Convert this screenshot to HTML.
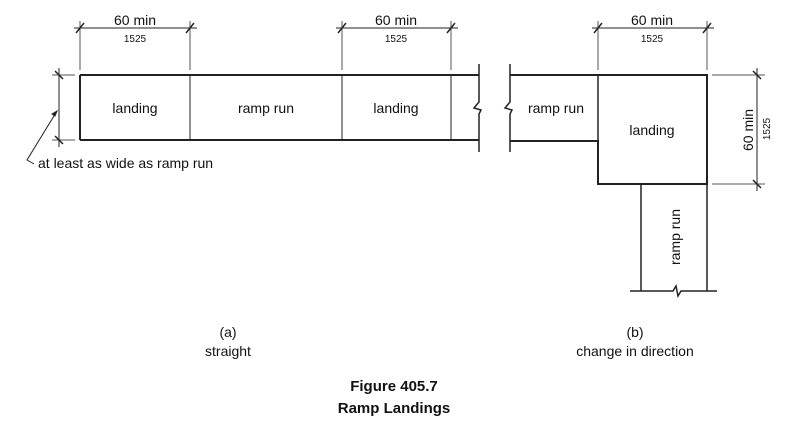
<!DOCTYPE html>
<html><head><meta charset="utf-8"><style>
html,body{margin:0;padding:0;background:#fff}
svg{display:block}
text{font-family:"Liberation Sans",Arial,sans-serif;fill:#111}
</style></head><body>
<svg width="810" height="426" viewBox="0 0 810 426" xmlns="http://www.w3.org/2000/svg">
<g stroke="#222" fill="none" stroke-width="1">
<path d="M80 75H479M80 140H479" stroke-width="2"/>
<path d="M80 75V140" stroke-width="2"/>
<path d="M190 75V140M342 75V140M451 75V140"/>
<path d="M479 64V102L474 108L481 110L479 114V152" stroke-width="1.5"/>
<path d="M80 70V21M190 70V21M342 70V21M451 70V21" stroke="#555"/>
<path d="M74 28H197M336 28H458"/>
<path d="M76 33L84 23M186 33L194 23M338 33L346 23M447 33L455 23" stroke-width="1.5"/>
<path d="M52 75H75M52 140H75" stroke="#555"/>
<path d="M59 68V147"/>
<path d="M55 71L63 79M55 136L63 144" stroke-width="1.5"/>
<path d="M57 111L27 160L34 164"/>
<path d="M57 111L52 114L55 116Z" fill="#222"/>
<path d="M510 64V102L505 108L512 110L510 114V152" stroke-width="1.5"/>
<path d="M510 75H707V184H598V141H510" stroke-width="2"/>
<path d="M598 75V141" stroke-width="1.5"/>
<path d="M641 184V291M707 184V291" stroke-width="1.5"/>
<path d="M630 291H673L676 286L678 296L681 291H717" stroke-width="1.5"/>
<path d="M598 70V21M707 70V21" stroke="#555"/>
<path d="M592 28H714"/>
<path d="M594 33L602 23M703 33L711 23" stroke-width="1.5"/>
<path d="M712 75H765M712 184H765" stroke="#555"/>
<path d="M757 68V191"/>
<path d="M753 71L761 79M753 180L761 188" stroke-width="1.5"/>
</g>
<g font-size="14" text-anchor="middle">
<text x="135" y="25">60 min</text>
<text x="396" y="25">60 min</text>
<text x="652" y="25">60 min</text>
<text x="135" y="113">landing</text>
<text x="266" y="113">ramp run</text>
<text x="396" y="113">landing</text>
<text x="556" y="113">ramp run</text>
<text x="652" y="135">landing</text>
<text x="38" y="168" text-anchor="start">at least as wide as ramp run</text>
<text x="228" y="337">(a)</text>
<text x="228" y="356">straight</text>
<text x="635" y="337">(b)</text>
<text x="635" y="356">change in direction</text>
<text transform="translate(753,130) rotate(-90)">60 min</text>
<text transform="translate(680,237) rotate(-90)">ramp run</text>
</g>
<g font-size="10" text-anchor="middle">
<text x="135" y="42">1525</text>
<text x="396" y="42">1525</text>
<text x="652" y="42">1525</text>
<text transform="translate(770,129) rotate(-90)">1525</text>
</g>
<g font-size="15" text-anchor="middle" font-weight="bold">
<text x="394" y="391">Figure 405.7</text>
<text x="394" y="413">Ramp Landings</text>
</g>
</svg>
</body></html>
